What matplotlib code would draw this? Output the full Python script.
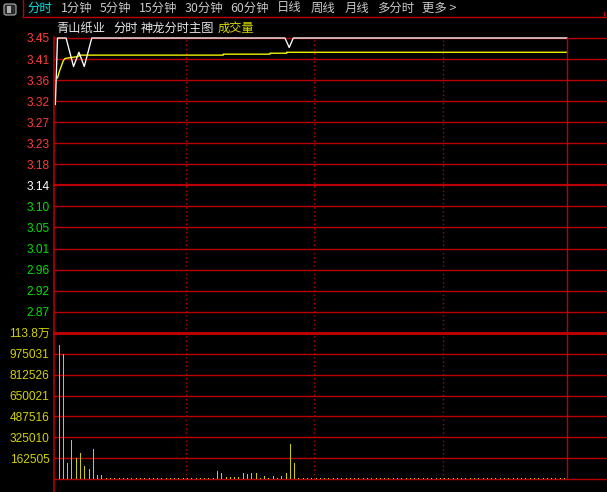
import matplotlib
matplotlib.use('Agg')
import matplotlib.pyplot as plt
from matplotlib.lines import Line2D
from matplotlib.patches import Rectangle, FancyBboxPatch

# ---------------- data ----------------
prev_close = 3.14
price_step = 0.31 / 7
price_labels = ["3.45", "3.41", "3.36", "3.32", "3.27", "3.23", "3.18", "3.14",
                "3.10", "3.05", "3.01", "2.96", "2.92", "2.87"]
price_label_steps = [7, 6, 5, 4, 3, 2, 1, 0, -1, -2, -3, -4, -5, -6]

vol_step = 162505
vol_labels = ["113.8万", "975031", "812526", "650021", "487516", "325010", "162505"]
vol_label_steps = [7, 6, 5, 4, 3, 2, 1]

# price line (minute, price)
price_min = [-1, 0, 4, 7.5, 10, 12.5, 16, 106.2, 108.2, 110.1, 237.9]
price_val = [3.31, 3.45, 3.45, 3.39, 3.42, 3.39, 3.45, 3.45, 3.43, 3.45, 3.45]

# average price line (minute, price)
avg_min = [0, 0.9, 2.7, 3.5, 9.6, 10.6, 77.4, 77.4, 99.2, 99.2, 107.0, 107.0, 237.9]
avg_val = [3.366, 3.38, 3.402, 3.407, 3.411, 3.414, 3.414, 3.416, 3.416, 3.418, 3.418, 3.420, 3.420]

# volume every 2 minutes
vol_min = [0.5 + 2 * k for k in range(119)]
volumes = [1045000, 975000, 124000, 302000, 162000, 201000, 101000, 77000, 232000, 31000,
           31000, 7000, 7000, 7000, 7000, 7000, 7000, 7000, 7000, 7000,
           7000, 7000, 7000, 7000, 7000, 7000, 7000, 7000, 7000, 7000,
           7000, 7000, 7000, 7000, 7000, 7000, 7000, 62000, 46000, 20000,
           20000, 20000, 20000, 46000, 39000, 46000, 46000, 7000, 23000, 7000,
           23000, 7000, 23000, 46000, 271000, 124000, 7000, 7000, 7000, 7000,
           7000, 7000, 7000, 7000, 7000, 7000, 7000, 7000, 7000, 7000,
           7000, 7000, 7000, 7000, 7000, 7000, 7000, 7000, 7000, 7000,
           7000, 7000, 7000, 7000, 7000, 7000, 7000, 7000, 7000, 7000,
           7000, 7000, 7000, 7000, 7000, 7000, 7000, 7000, 7000, 7000,
           7000, 7000, 7000, 7000, 7000, 7000, 7000, 7000, 7000, 7000,
           7000, 7000, 7000, 7000, 7000, 7000, 7000, 7000, 7000]

session_marks = [60, 120, 180]

toolbar_items = ["分时", "1分钟", "5分钟", "15分钟", "30分钟", "60分钟", "日线", "周线", "月线", "多分时", "更多 >"]
header_items = ["青山纸业", "分时", "神龙分时主图", "成交量"]

# ---------------- style ----------------
W, H = 607, 492
RED = '#c00000'
GRID = '#b80000'
CJK = ['Noto Sans CJK SC', 'DejaVu Sans']
NUM = ['Liberation Sans', 'Noto Sans CJK SC']

fig = plt.figure(figsize=(W / 100, H / 100), dpi=100, facecolor='black')


def fx(p):
    return p / W


def fy(p):
    return 1 - p / H


def fline(x0, y0, x1, y1, color=RED, lw=1.0, **kw):
    fig.add_artist(Line2D([fx(x0), fx(x1)], [fy(y0), fy(y1)], color=color, lw=lw, **kw))


ax_left, ax_right = 54.3, 567.0
p_top, p_bot = 38.0, 332.7
v_top, v_bot = 332.7, 479.3
xlim = (-1.49, 237.9)
ext = (W - ax_left) / (ax_right - ax_left)

axp = fig.add_axes([fx(ax_left), fy(p_bot), (ax_right - ax_left) / W, (p_bot - p_top) / H])
axv = fig.add_axes([fx(ax_left), fy(v_bot), (ax_right - ax_left) / W, (v_bot - v_top) / H])

for ax in (axp, axv):
    ax.set_facecolor('black')
    for s in ax.spines.values():
        s.set_visible(False)
    ax.set_xlim(*xlim)
    ax.set_xticks([])
    ax.tick_params(axis='y', length=0, pad=3.5)

# price panel
axp.set_ylim(prev_close - 7 * price_step, prev_close + 7 * price_step)
levels = [prev_close + k * price_step for k in price_label_steps]
axp.set_yticks(levels)
axp.set_yticklabels(price_labels, fontfamily=NUM, fontsize=8.6)
for lab, k in zip(axp.get_yticklabels(), price_label_steps):
    lab.set_color('#ff3a3a' if k > 0 else ('#ffffff' if k == 0 else '#00e000'))

for k in range(-6, 8):
    lw = 1.6 if k == 0 else 1.0
    axp.axhline(prev_close + k * price_step, xmin=0, xmax=ext, color=GRID, lw=lw, clip_on=False, zorder=1)

for m in session_marks:
    axp.axvline(m, color=GRID, lw=1.0, ls=(0, (1, 2)), zorder=1)

axp.plot(avg_min, avg_val, color='#ffff00', lw=0.95, zorder=3, clip_on=False)
axp.plot(price_min, price_val, color='#ffffff', lw=0.95, zorder=4, clip_on=False)

# volume panel
axv.set_ylim(0, 7 * vol_step)
axv.set_yticks([k * vol_step for k in vol_label_steps])
axv.set_yticklabels(vol_labels, fontfamily=NUM, fontsize=8.6, color='#d2d200')
for k in range(0, 8):
    lw = 2.2 if k == 7 else 1.0
    axv.axhline(k * vol_step, xmin=0, xmax=ext, color=GRID, lw=lw, clip_on=False, zorder=1)
for m in session_marks:
    axv.axvline(m, color=GRID, lw=1.0, ls=(0, (1, 2)), zorder=1)
axv.vlines(vol_min, 0, volumes, colors='#cccc00', lw=0.72, zorder=3, antialiased=False)

# frame lines
fline(ax_left, 37, ax_left, H, lw=1.1)
fline(ax_right, p_top, ax_right, v_bot, lw=1.0)

# toolbar
fig.add_artist(FancyBboxPatch((fx(4), fy(15)), fx(12), 11 / H, boxstyle='round,pad=0,rounding_size=0.004',
                              facecolor='#2a2a2a', edgecolor='#a0a0a0', lw=0.9, transform=fig.transFigure))
fig.add_artist(Rectangle((fx(7), fy(12.5)), fx(3.5), 6 / H, facecolor='#b0b0b0', edgecolor='none',
                         transform=fig.transFigure))
fline(23, 0, 23, 16.7, lw=1.0)
fline(23, 16.7, W, 16.7, lw=1.0)
fline(604, 12, 604, 16.7, lw=1.0)

tb_x = [28, 61, 99.6, 138.6, 184.7, 230.4, 276.8, 310.9, 344.6, 377.5, 422]
for i, (t, x) in enumerate(zip(toolbar_items, tb_x)):
    fig.text(fx(x), fy(8), t, color='#00e6e6' if i == 0 else '#c8c8c8', fontsize=8.9,
             fontfamily=CJK, ha='left', va='center')

hd_x = [56, 113, 141, 218]
for i, (t, x) in enumerate(zip(header_items, hd_x)):
    fig.text(fx(x), fy(28), t, color='#d8d800' if i == 3 else '#e8e8e8', fontsize=8.8,
             fontfamily=CJK, ha='left', va='center')

fig.savefig('out.png', dpi=100, facecolor='black')
